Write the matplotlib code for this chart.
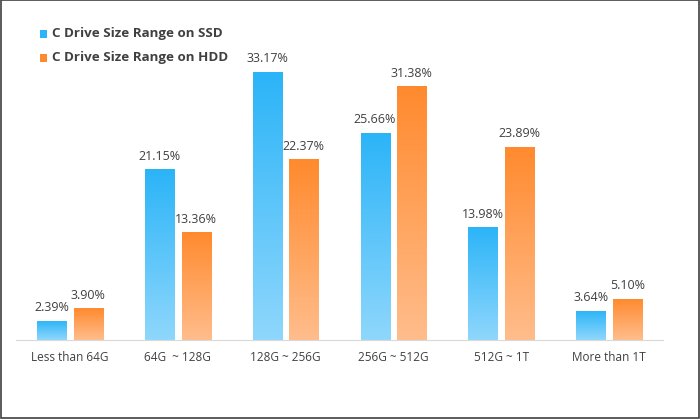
import numpy as np
import matplotlib
matplotlib.use('Agg')
import matplotlib.pyplot as plt
from matplotlib.patches import Rectangle
from matplotlib.colors import LinearSegmentedColormap

# Data
categories = ['Less than 64G', '64G  ~ 128G', '128G ~ 256G', '256G ~ 512G', '512G ~ 1T', 'More than 1T']
ssd = [2.39, 21.15, 33.17, 25.66, 13.98, 3.64]
hdd = [3.90, 13.36, 22.37, 31.38, 23.89, 5.10]
series_names = ['C Drive Size Range on SSD', 'C Drive Size Range on HDD']

plt.rcParams['font.family'] = ['Open Sans', 'DejaVu Sans']

fig = plt.figure(figsize=(7, 4.19), dpi=100)
ax = fig.add_axes([16 / 700, 1 - 340 / 419, (663 - 16) / 700, (340 - 49) / 419])

x = np.arange(len(categories))
w = 0.27
off = 0.17

ssd_cmap = LinearSegmentedColormap.from_list('ssd', ['#8fd7fc', '#2bb4f8'])
hdd_cmap = LinearSegmentedColormap.from_list('hdd', ['#ffbd8c', '#ff8a2e'])
grad = np.linspace(0, 1, 256).reshape(-1, 1)


def gradient_bars(bars, cmap):
    for b in bars:
        bx, by = b.get_x(), b.get_y()
        bw, bh = b.get_width(), b.get_height()
        b.set_facecolor('none')
        b.set_edgecolor('none')
        im = ax.imshow(grad, cmap=cmap, origin='lower', aspect='auto',
                       extent=[bx, bx + bw, by, by + bh], zorder=2)
        im.set_clip_path(b)


b1 = ax.bar(x - off, ssd, w)
b2 = ax.bar(x + off, hdd, w)
gradient_bars(b1, ssd_cmap)
gradient_bars(b2, hdd_cmap)

for xi, v in zip(x, ssd):
    ax.text(xi - off, v + 0.8, f'{v:.2f}%', ha='center', va='bottom', fontsize=9, color='#404040')
for xi, v in zip(x, hdd):
    ax.text(xi + off, v + 0.8, f'{v:.2f}%', ha='center', va='bottom', fontsize=9, color='#404040')

ax.set_xlim(-0.5, 5.5)
ax.set_ylim(0, 36)
ax.set_xticks(x)
ax.set_xticklabels(categories, fontsize=8.5, color='#404040')
ax.tick_params(axis='x', length=0, pad=8)
ax.set_yticks([])
for s in ['top', 'left', 'right']:
    ax.spines[s].set_visible(False)
ax.spines['bottom'].set_color('#d9d9d9')
ax.spines['bottom'].set_zorder(3)

# legend
leg_colors = ['#2bb4f8', '#ff8a2e']
leg_y = [34, 58]
for c, yy, name in zip(leg_colors, leg_y, series_names):
    fig.patches.append(Rectangle((40 / 700, 1 - (yy + 4) / 419), 7 / 700, 8 / 419,
                                 transform=fig.transFigure, facecolor=c, edgecolor='none'))
    fig.text(52 / 700, 1 - yy / 419, name, fontsize=9.6, fontweight='bold',
             color='#404040', va='center', ha='left')

# outer border
fig.patches.append(Rectangle((0.5 / 700, 1.5 / 419), 698.5 / 700, 417 / 419, transform=fig.transFigure,
                             facecolor='none', edgecolor='#404040', linewidth=1.2))

fig.savefig('out.png', dpi=100)
